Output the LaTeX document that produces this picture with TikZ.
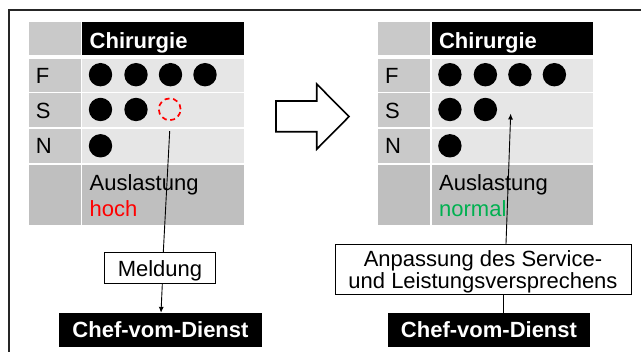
\documentclass[tikz,border=0pt]{standalone}
\usepackage{fontspec}
\setmainfont{Liberation Sans}
\usetikzlibrary{arrows.meta,calc}
\definecolor{cellA}{HTML}{C9C9C9}
\definecolor{cellB}{HTML}{E6E6E6}
\definecolor{cellC}{HTML}{BFBFBF}
\definecolor{okgreen}{HTML}{00B050}
\tikzset{
  txt/.style={font=\fontsize{22}{25}\selectfont},
  txtb/.style={font=\fontsize{22}{25}\selectfont\bfseries},
  cell/.style={anchor=north west, inner sep=0pt, outer sep=0pt, draw=none},
  lbl/.style={txt, anchor=base west, inner sep=0pt},
  dot/.style={circle, fill=black, inner sep=0pt, minimum size=23.4pt},
  reddot/.style={circle, draw=red, dash pattern=on 5pt off 3.6pt, line width=1.7pt, inner sep=0pt, minimum size=21.8pt},
  whitebox/.style={txt, draw=black, line width=0.9pt, fill=white, inner sep=0pt},
  chefbox/.style={txtb, fill=black, text=white, inner sep=0pt, minimum width=202.4pt, minimum height=33.7pt},
  conn/.style={draw=black, line width=0.9pt},
  tip/.style={-{Latex[length=6pt,width=5pt]}},
}
\newcommand\mytable[2]{%
  \begin{scope}[xshift=#1pt]
    \node[cell, fill=cellA, minimum width=52.3pt, minimum height=33pt] (#2c0) at (28.7,22) {};
    \node[cell, fill=black, minimum width=161.7pt, minimum height=33pt] (#2h) at (82.3,22) {};
    \node[cell, fill=cellA, minimum width=52.3pt, minimum height=32.4pt] (#2cF) at (28.7,59.3) {};
    \node[cell, fill=cellB, minimum width=161.7pt, minimum height=32.4pt] (#2dF) at (82.3,59.3) {};
    \node[cell, fill=cellA, minimum width=52.3pt, minimum height=34pt] (#2cS) at (28.7,93.3) {};
    \node[cell, fill=cellB, minimum width=161.7pt, minimum height=34pt] (#2dS) at (82.3,93.3) {};
    \node[cell, fill=cellA, minimum width=52.3pt, minimum height=34.6pt] (#2cN) at (28.7,128.7) {};
    \node[cell, fill=cellB, minimum width=161.7pt, minimum height=34.6pt] (#2dN) at (82.3,128.7) {};
    \node[cell, fill=cellC, minimum width=52.3pt, minimum height=60.6pt] (#2cL) at (28.7,164.7) {};
    \node[cell, fill=cellC, minimum width=161.7pt, minimum height=60.6pt] (#2dL) at (82.3,164.7) {};
    \node[lbl, txtb, text=white] (#2ht) at (89.5,48.3) {Chirurgie};
    \node[lbl] (#2tF) at (35.6,83.3) {F};
    \node[lbl] (#2tS) at (35.6,118.6) {S};
    \node[lbl] (#2tN) at (35.6,154) {N};
    \node[dot] (#2F1) at (100.5,74.7) {};
    \node[dot] (#2F2) at (136,74.7) {};
    \node[dot] (#2F3) at (170.5,74.7) {};
    \node[dot] (#2F4) at (205,74.7) {};
    \node[dot] (#2S1) at (100.5,109.5) {};
    \node[dot] (#2S2) at (136,109.5) {};
    \node[dot] (#2N1) at (100.5,145.8) {};
    \node[lbl] (#2st) at (89.5,191) {Auslastung};
  \end{scope}}
\begin{document}
\begin{tikzpicture}[x=1pt,y=-1pt]
\useasboundingbox (0,0) rectangle (641,352);
\draw[line width=1.5pt, draw=black!85] (9,370) -- (9,10) -- (660,10);
% left table
\mytable{0}{L}
\node[reddot] (Lred) at (169.7,109.3) {};
\node[lbl, text=red] (Lhoch) at (89.5,216.5) {hoch};
% right table
\mytable{349.4}{R}
\node[lbl, text=okgreen] (Rnorm) at (439,216.5) {normal};
% big arrow
\draw[line width=1.6pt, fill=white] (276,101) -- (316.7,101) -- (316.7,84) -- (349,116.6) -- (316.7,149.2) -- (316.7,131.8) -- (276,131.8) -- cycle;
% boxes
\node[whitebox, text depth=0pt, minimum width=111.4pt, minimum height=31pt] (meld) at (160,268.2) {Meldung};
\node[chefbox] (Lchef) at (160.5,329.9) {Chef-vom-Dienst};
\node[whitebox, align=center, text depth=0pt, font=\fontsize{22}{22.7}\selectfont, minimum width=296pt, minimum height=50.7pt] (anp) at (483,269.6) {Anpassung des Service-\\und Leistungsversprechens};
\node[chefbox] (Rchef) at (489,329.9) {Chef-vom-Dienst};
\coordinate (Rtgt) at (510.7,113.5);
% connectors
\draw[conn] ([yshift=-10pt]Lred.south) -- ([xshift=3.3pt]meld.north);
\draw[conn, tip] ([xshift=2.3pt]meld.south) -- ([xshift=0.5pt]Lchef.north);
\draw[conn, tip] ([xshift=23pt]anp.north) -- (Rtgt);
\draw[conn] ([xshift=20.7pt]anp.south) -- ([xshift=14.7pt]Rchef.north);
\end{tikzpicture}
\end{document}
